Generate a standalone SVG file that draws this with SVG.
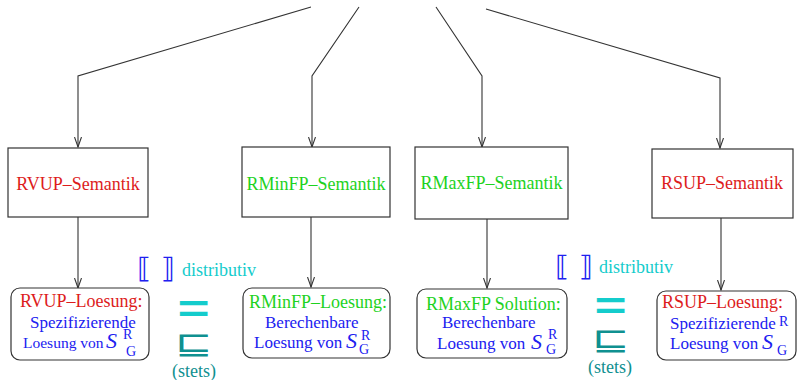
<svg xmlns="http://www.w3.org/2000/svg" width="797" height="380" viewBox="0 0 797 380">
<style>
.box{fill:#fff;stroke:#333;stroke-width:1.2}
.sol{fill:#fff;stroke:#333;stroke-width:1.2}
.con{fill:none;stroke:#333;stroke-width:1.1}
text{font-family:"Liberation Serif","Times New Roman",serif}
.t18{font-size:18px}
.t17{font-size:17px}
.red{fill:#dd1c1c}
.grn{fill:#1ed21e}
.blu{fill:#2020f0}
.cy{fill:#14cccc}
.tl{fill:#0f9090}
.S{font-size:22px;font-style:italic;fill:#2020f0}
.sub{font-size:14px;fill:#2020f0}
.br{font-family:"DejaVu Sans",sans-serif;font-size:28px;fill:#2020f0}
.eq{font-family:"Liberation Sans",Arial,sans-serif;font-weight:bold;font-size:38px}
.sq{font-family:"DejaVu Sans",sans-serif;font-size:31px}
</style>
<defs>
<marker id="ah" markerUnits="userSpaceOnUse" markerWidth="11" markerHeight="8" refX="10" refY="3.5" orient="auto">
<path d="M0,0 L10,3.5 L0,7" fill="none" stroke="#333" stroke-width="1.1"/>
</marker>
</defs>
<g id="connectors">
<polyline class="con" points="311,7 78,76 78,147" marker-end="url(#ah)"/>
<polyline class="con" points="359,7 312,76 312,147" marker-end="url(#ah)"/>
<polyline class="con" points="436,7 482,76 482,147" marker-end="url(#ah)"/>
<polyline class="con" points="486,9 720,78 720,148" marker-end="url(#ah)"/>
<line class="con" x1="78" y1="217" x2="78" y2="288" marker-end="url(#ah)"/>
<line class="con" x1="311" y1="217" x2="311" y2="287" marker-end="url(#ah)"/>
<line class="con" x1="487" y1="219" x2="487" y2="288" marker-end="url(#ah)"/>
<line class="con" x1="721" y1="218" x2="721" y2="290" marker-end="url(#ah)"/>
</g>
<g id="rvup-sem">
<rect class="box" x="8" y="148" width="140" height="69"/>
<text class="t18 red" x="78" y="190" text-anchor="middle">RVUP–Semantik</text>
</g>
<g id="rminfp-sem">
<rect class="box" x="242" y="147" width="148" height="70"/>
<text class="t18 grn" x="316" y="190" text-anchor="middle">RMinFP–Semantik</text>
</g>
<g id="rmaxfp-sem">
<rect class="box" x="415" y="147" width="153" height="72"/>
<text class="t18 grn" x="491.5" y="189" text-anchor="middle">RMaxFP–Semantik</text>
</g>
<g id="rsup-sem">
<rect class="box" x="652" y="149" width="141" height="69"/>
<text class="t18 red" x="722" y="189" text-anchor="middle">RSUP–Semantik</text>
</g>
<g id="rvup-sol">
<rect class="sol" x="11" y="288" width="138" height="72" rx="9"/>
<text class="t18 red" x="20" y="307">RVUP–Loesung:</text>
<text class="t17 blu" x="30" y="328">Spezifizierende</text>
<text class="blu" x="23" y="348" font-size="15.5">Loesung von</text>
<text class="S" x="106" y="348">S</text>
<text class="sub" x="123" y="339">R</text>
<text class="sub" x="126" y="356">G</text>
</g>
<g id="rminfp-sol">
<rect class="sol" x="243" y="288" width="147" height="70" rx="9"/>
<text class="t18 grn" x="249" y="308">RMinFP–Loesung:</text>
<text class="t17 blu" x="265" y="328">Berechenbare</text>
<text class="t17 blu" x="254" y="348">Loesung von</text>
<text class="S" x="346" y="348">S</text>
<text class="sub" x="361" y="340">R</text>
<text class="sub" x="359" y="354">G</text>
</g>
<g id="rmaxfp-sol">
<rect class="sol" x="417" y="289" width="150" height="69" rx="9"/>
<text class="t18 grn" x="426" y="310">RMaxFP Solution:</text>
<text class="t17 blu" x="442" y="328">Berechenbare</text>
<text class="t17 blu" x="437" y="349">Loesung von</text>
<text class="S" x="531" y="349">S</text>
<text class="sub" x="548" y="339">R</text>
<text class="sub" x="546" y="354">G</text>
</g>
<g id="rsup-sol">
<rect class="sol" x="657" y="291" width="139" height="69" rx="9"/>
<text class="t18 red" x="662" y="308">RSUP–Loesung:</text>
<text class="t17 blu" x="670" y="329">Spezifizierende</text>
<text class="t17 blu" x="670" y="349">Loesung von</text>
<text class="S" x="762" y="349">S</text>
<text class="sub" x="779" y="326">R</text>
<text class="sub" x="777" y="355">G</text>
</g>
<g id="rel-left">
<text class="br" x="137" y="278">⟦</text>
<text class="br" x="161" y="278">⟧</text>
<text class="t18 cy" x="182" y="276">distributiv</text>
<text class="eq cy" transform="translate(193.5 321.7) scale(1.45 1)" text-anchor="middle">=</text>
<text class="sq tl" transform="translate(193.5 354) scale(1.45 1)" text-anchor="middle">⊑</text>
<text class="t18 tl" x="172" y="377">(stets)</text>
</g>
<g id="rel-right">
<text class="br" x="555" y="276">⟦</text>
<text class="br" x="579" y="276">⟧</text>
<text class="t18 cy" x="599" y="273">distributiv</text>
<text class="eq cy" transform="translate(610.5 319) scale(1.45 1)" text-anchor="middle">=</text>
<text class="sq tl" transform="translate(610.5 350) scale(1.45 1)" text-anchor="middle">⊑</text>
<text class="t18 tl" x="588" y="373">(stets)</text>
</g>
</svg>
